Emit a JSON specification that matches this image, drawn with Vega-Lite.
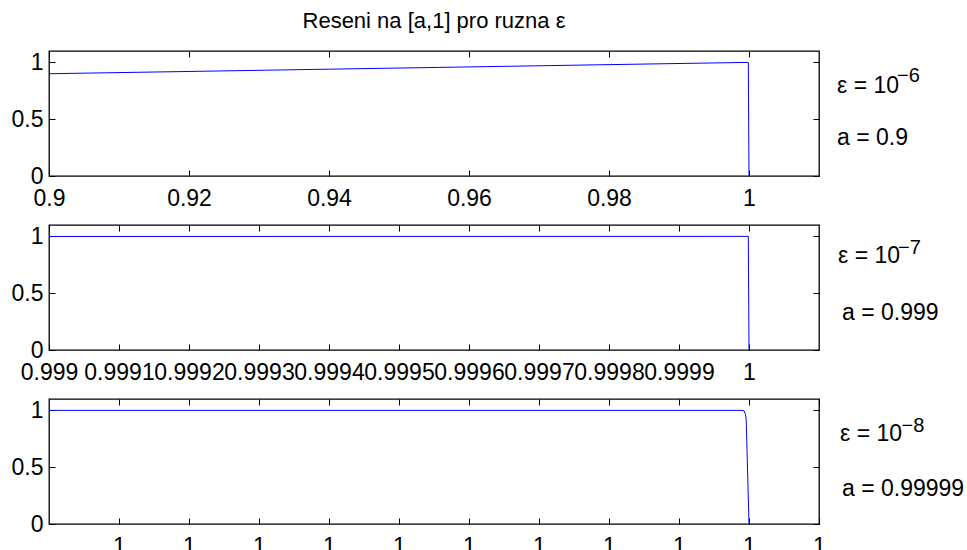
{
  "$schema": "https://vega.github.io/schema/vega-lite/v6.json",
  "padding": {"left": 10, "top": 9, "right": 5, "bottom": 5},
  "bounds": "flush",
  "spacing": 49,
  "title": {"text": "Reseni na [a,1] pro ruzna ε", "fontSize": 22, "fontWeight": "normal", "font": "Liberation Sans", "color": "black", "anchor": "middle", "frame": "group", "offset": 17},
  "datasets": {
    "p1": [{"x": 0.9, "y": 0.9}, {"x": 0.92, "y": 0.92}, {"x": 0.94, "y": 0.94}, {"x": 0.96, "y": 0.96}, {"x": 0.98, "y": 0.98}, {"x": 0.9999, "y": 0.9999}, {"x": 1.0, "y": 0.0}],
    "p2": [{"x": 0.999, "y": 0.999}, {"x": 0.9995, "y": 0.9995}, {"x": 0.999999, "y": 0.999999}, {"x": 1.0, "y": 0.0}],
    "p3": [{"x": 0.99999, "y": 0.99999}, {"x": 0.9999999, "y": 1.0}, {"x": 0.99999993, "y": 0.995}, {"x": 0.99999995, "y": 0.965}, {"x": 0.99999996, "y": 0.92}, {"x": 1.0, "y": 0.0}],
    "a1": [{"x": 1.012571, "y": 0.792, "t": "ε = 10"}, {"x": 1.012571, "y": 0.337, "t": "a = 0.9"}],
    "s1": [{"x": 1.02114, "y": 0.88, "t": "−6"}],
    "a2": [{"x": 1.00012714, "y": 0.827, "t": "ε = 10"}, {"x": 1.00013286, "y": 0.328, "t": "a = 0.999"}],
    "s2": [{"x": 1.00021285, "y": 0.9, "t": "−7"}],
    "a3": [{"x": 1.0000013, "y": 0.789, "t": "ε = 10"}, {"x": 1.0000013286, "y": 0.305, "t": "a = 0.99999"}],
    "s3": [{"x": 1.00000218, "y": 0.862, "t": "−8"}]
  },
  "config": {
    "font": "Liberation Sans",
    "view": {"stroke": "black", "strokeWidth": 1.3},
    "axis": {"domain": false, "grid": false, "title": null, "ticks": true, "tickSize": -6, "tickColor": "black", "tickWidth": 1, "labelColor": "black", "labelFontSize": 23, "labelOverlap": false, "labelFlush": false, "labelBound": false},
    "axisX": {"labelPadding": 17},
    "axisY": {"labelPadding": 12},
    "text": {"font": "Liberation Sans", "color": "black"}
  },
  "vconcat": [
    {
      "width": 770, "height": 125,
      "resolve": {"axis": {"x": "independent", "y": "independent"}},
      "layer": [
        {"data": {"name": "p1"}, "mark": {"type": "line", "color": "#0000ff", "strokeWidth": 1, "clip": true},
         "encoding": {
           "x": {"field": "x", "type": "quantitative", "scale": {"domain": [0.9, 1.01], "nice": false, "zero": false}, "axis": {"orient": "bottom", "values": [0.9, 0.92, 0.94, 0.96, 0.98, 1], "format": "~g"}},
           "y": {"field": "y", "type": "quantitative", "scale": {"domain": [0, 1.1], "nice": false, "zero": false}, "axis": {"orient": "left", "values": [0, 0.5, 1], "format": "~g"}}}},
        {"data": {"name": "p1"}, "mark": {"type": "line", "opacity": 0},
         "encoding": {
           "x": {"field": "x", "type": "quantitative", "scale": {"domain": [0.9, 1.01], "nice": false, "zero": false}, "axis": {"orient": "top", "values": [0.9, 0.92, 0.94, 0.96, 0.98, 1], "labels": false}},
           "y": {"field": "y", "type": "quantitative", "scale": {"domain": [0, 1.1], "nice": false, "zero": false}, "axis": {"orient": "right", "values": [0, 0.5, 1], "labels": false}}}},
        {"data": {"name": "a1"}, "mark": {"type": "text", "align": "left", "baseline": "middle", "fontSize": 23},
         "encoding": {
           "x": {"field": "x", "type": "quantitative", "scale": {"domain": [0.9, 1.01], "nice": false, "zero": false}, "axis": null},
           "y": {"field": "y", "type": "quantitative", "scale": {"domain": [0, 1.1], "nice": false, "zero": false}, "axis": null},
           "text": {"field": "t"}}},
        {"data": {"name": "s1"}, "mark": {"type": "text", "align": "left", "baseline": "middle", "fontSize": 20},
         "encoding": {
           "x": {"field": "x", "type": "quantitative", "scale": {"domain": [0.9, 1.01], "nice": false, "zero": false}, "axis": null},
           "y": {"field": "y", "type": "quantitative", "scale": {"domain": [0, 1.1], "nice": false, "zero": false}, "axis": null},
           "text": {"field": "t"}}}
      ]
    },
    {
      "width": 770, "height": 125,
      "resolve": {"axis": {"x": "independent", "y": "independent"}},
      "layer": [
        {"data": {"name": "p2"}, "mark": {"type": "line", "color": "#0000ff", "strokeWidth": 1, "clip": true},
         "encoding": {
           "x": {"field": "x", "type": "quantitative", "scale": {"domain": [0.999, 1.0001], "nice": false, "zero": false}, "axis": {"orient": "bottom", "values": [0.999, 0.9991, 0.9992, 0.9993, 0.9994, 0.9995, 0.9996, 0.9997, 0.9998, 0.9999, 1], "format": "~g"}},
           "y": {"field": "y", "type": "quantitative", "scale": {"domain": [0, 1.1], "nice": false, "zero": false}, "axis": {"orient": "left", "values": [0, 0.5, 1], "format": "~g"}}}},
        {"data": {"name": "p2"}, "mark": {"type": "line", "opacity": 0},
         "encoding": {
           "x": {"field": "x", "type": "quantitative", "scale": {"domain": [0.999, 1.0001], "nice": false, "zero": false}, "axis": {"orient": "top", "values": [0.999, 0.9991, 0.9992, 0.9993, 0.9994, 0.9995, 0.9996, 0.9997, 0.9998, 0.9999, 1], "labels": false}},
           "y": {"field": "y", "type": "quantitative", "scale": {"domain": [0, 1.1], "nice": false, "zero": false}, "axis": {"orient": "right", "values": [0, 0.5, 1], "labels": false}}}},
        {"data": {"name": "a2"}, "mark": {"type": "text", "align": "left", "baseline": "middle", "fontSize": 23},
         "encoding": {
           "x": {"field": "x", "type": "quantitative", "scale": {"domain": [0.999, 1.0001], "nice": false, "zero": false}, "axis": null},
           "y": {"field": "y", "type": "quantitative", "scale": {"domain": [0, 1.1], "nice": false, "zero": false}, "axis": null},
           "text": {"field": "t"}}},
        {"data": {"name": "s2"}, "mark": {"type": "text", "align": "left", "baseline": "middle", "fontSize": 20},
         "encoding": {
           "x": {"field": "x", "type": "quantitative", "scale": {"domain": [0.999, 1.0001], "nice": false, "zero": false}, "axis": null},
           "y": {"field": "y", "type": "quantitative", "scale": {"domain": [0, 1.1], "nice": false, "zero": false}, "axis": null},
           "text": {"field": "t"}}}
      ]
    },
    {
      "width": 770, "height": 125,
      "resolve": {"axis": {"x": "independent", "y": "independent"}},
      "layer": [
        {"data": {"name": "p3"}, "mark": {"type": "line", "color": "#0000ff", "strokeWidth": 1, "clip": true},
         "encoding": {
           "x": {"field": "x", "type": "quantitative", "scale": {"domain": [0.99999, 1.000001], "nice": false, "zero": false}, "axis": {"orient": "bottom", "values": [0.999991, 0.999992, 0.999993, 0.999994, 0.999995, 0.999996, 0.999997, 0.999998, 0.999999, 1, 1.000001], "labelExpr": "'1'"}},
           "y": {"field": "y", "type": "quantitative", "scale": {"domain": [0, 1.1], "nice": false, "zero": false}, "axis": {"orient": "left", "values": [0, 0.5, 1], "format": "~g"}}}},
        {"data": {"name": "p3"}, "mark": {"type": "line", "opacity": 0},
         "encoding": {
           "x": {"field": "x", "type": "quantitative", "scale": {"domain": [0.99999, 1.000001], "nice": false, "zero": false}, "axis": {"orient": "top", "values": [0.999991, 0.999992, 0.999993, 0.999994, 0.999995, 0.999996, 0.999997, 0.999998, 0.999999, 1, 1.000001], "labels": false}},
           "y": {"field": "y", "type": "quantitative", "scale": {"domain": [0, 1.1], "nice": false, "zero": false}, "axis": {"orient": "right", "values": [0, 0.5, 1], "labels": false}}}},
        {"data": {"name": "a3"}, "mark": {"type": "text", "align": "left", "baseline": "middle", "fontSize": 23},
         "encoding": {
           "x": {"field": "x", "type": "quantitative", "scale": {"domain": [0.99999, 1.000001], "nice": false, "zero": false}, "axis": null},
           "y": {"field": "y", "type": "quantitative", "scale": {"domain": [0, 1.1], "nice": false, "zero": false}, "axis": null},
           "text": {"field": "t"}}},
        {"data": {"name": "s3"}, "mark": {"type": "text", "align": "left", "baseline": "middle", "fontSize": 20},
         "encoding": {
           "x": {"field": "x", "type": "quantitative", "scale": {"domain": [0.99999, 1.000001], "nice": false, "zero": false}, "axis": null},
           "y": {"field": "y", "type": "quantitative", "scale": {"domain": [0, 1.1], "nice": false, "zero": false}, "axis": null},
           "text": {"field": "t"}}}
      ]
    }
  ]
}
